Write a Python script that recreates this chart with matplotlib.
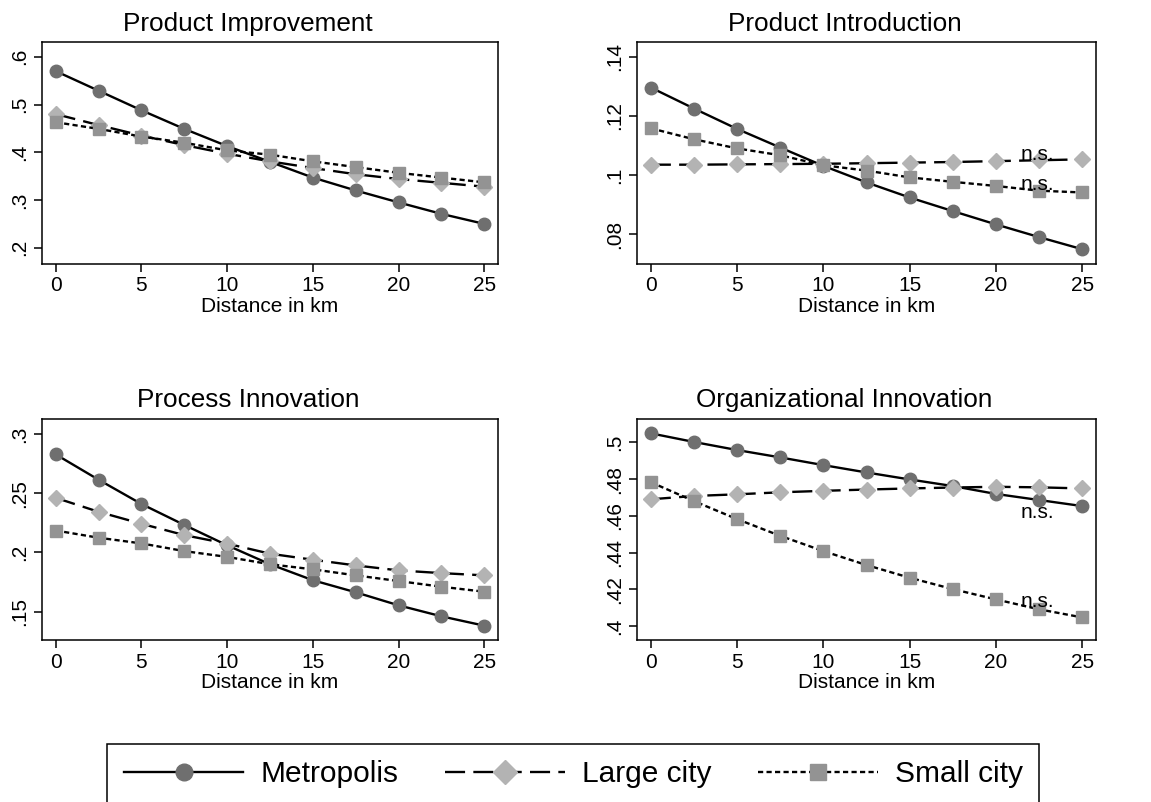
import matplotlib
matplotlib.use("Agg")
import matplotlib.pyplot as plt
from matplotlib.lines import Line2D

plt.rcParams['font.family'] = ['Liberation Sans', 'DejaVu Sans']

# distance grid (km)
distance = [0, 2.5, 5, 7.5, 10, 12.5, 15, 17.5, 20, 22.5, 25]

titles = ["Product Improvement", "Product Introduction",
          "Process Innovation", "Organizational Innovation"]
series_names = ["Metropolis", "Large city", "Small city"]

# predicted probabilities
improve_metro = [0.570, 0.529, 0.488, 0.449, 0.413, 0.380, 0.347, 0.320, 0.295, 0.271, 0.250]
improve_large = [0.480, 0.457, 0.435, 0.415, 0.397, 0.381, 0.367, 0.354, 0.344, 0.336, 0.328]
improve_small = [0.463, 0.449, 0.433, 0.420, 0.404, 0.395, 0.381, 0.369, 0.357, 0.347, 0.337]

intro_metro = [0.1296, 0.1225, 0.1156, 0.1093, 0.1031, 0.0975, 0.0924, 0.0878, 0.0833, 0.0790, 0.0749]
intro_large = [0.1035, 0.1035, 0.1036, 0.1037, 0.1038, 0.1040, 0.1042, 0.1044, 0.1047, 0.1050, 0.1053]
intro_small = [0.1158, 0.1121, 0.1090, 0.1067, 0.1033, 0.1015, 0.0992, 0.0977, 0.0963, 0.0947, 0.0941]

process_metro = [0.2828, 0.2614, 0.2409, 0.2232, 0.2060, 0.1900, 0.1765, 0.1663, 0.1553, 0.1460, 0.1381]
process_large = [0.2461, 0.2343, 0.2242, 0.2146, 0.2074, 0.1989, 0.1938, 0.1890, 0.1848, 0.1825, 0.1806]
process_small = [0.2185, 0.2124, 0.2076, 0.2011, 0.1962, 0.1900, 0.1857, 0.1806, 0.1758, 0.1710, 0.1668]

org_metro = [0.5049, 0.5002, 0.4958, 0.4918, 0.4876, 0.4836, 0.4798, 0.4762, 0.4719, 0.4686, 0.4653]
org_large = [0.4690, 0.4708, 0.4717, 0.4728, 0.4736, 0.4743, 0.4749, 0.4754, 0.4758, 0.4755, 0.4749]
org_small = [0.4783, 0.4680, 0.4582, 0.4491, 0.4408, 0.4332, 0.4263, 0.4201, 0.4145, 0.4091, 0.4047]

yticks = [[0.2, 0.3, 0.4, 0.5, 0.6],
          [0.08, 0.1, 0.12, 0.14],
          [0.15, 0.2, 0.25, 0.3],
          [0.4, 0.42, 0.44, 0.46, 0.48, 0.5]]
ylims = [(0.166, 0.631), (0.0699, 0.145), (0.126, 0.3127), (0.3924, 0.5127)]

# "n.s." notes: panel index, x, y
ns_notes = [(1, 22.4, 0.1050), (1, 22.4, 0.0949), (3, 22.4, 0.4588), (3, 22.4, 0.4104)]

panels = [(improve_metro, improve_large, improve_small),
          (intro_metro, intro_large, intro_small),
          (process_metro, process_large, process_small),
          (org_metro, org_large, org_small)]

W, H = 1151, 802
# axes boxes in pixels: left, top, right, bottom
boxes = [(42, 42, 498, 264), (637, 42, 1096, 264),
         (42, 419, 498, 640), (637, 419, 1096, 640)]
title_x = [248, 844.5, 248, 844.5]
title_y = [31, 31, 407, 407]

LW = 1.7
styles = [dict(color='black', linestyle='-', marker='o', markersize=9,
               markerfacecolor='#6f6f6f', markeredgecolor='#6f6f6f'),
          dict(color='black', linestyle=(0, (8.5, 3.5)), marker='D', markersize=8,
               markerfacecolor='#b3b3b3', markeredgecolor='#b3b3b3'),
          dict(color='black', linestyle=(0, (2.2, 1.4)), marker='s', markersize=8.3,
               markerfacecolor='#939393', markeredgecolor='#939393')]


def stata_fmt(v):
    s = '%g' % v
    if s.startswith('0.'):
        s = s[1:]
    return s


fig = plt.figure(figsize=(W / 100, H / 100), dpi=100)

for i, (data, box) in enumerate(zip(panels, boxes)):
    l, t, r, b = box
    ax = fig.add_axes([l / W, 1 - b / H, (r - l) / W, (b - t) / H])
    for vals, st in zip(data, styles):
        ax.plot(distance, vals, linewidth=LW, **st)
    ax.set_xlim(-0.8, 25.8)
    ax.set_ylim(*ylims[i])
    ax.set_xticks([0, 5, 10, 15, 20, 25])
    ax.set_yticks(yticks[i])
    ax.set_yticklabels([stata_fmt(v) for v in yticks[i]], rotation=90, va='center')
    ax.tick_params(labelsize=15, length=6, width=1.1, pad=3)
    for sp in ax.spines.values():
        sp.set_linewidth(1.1)
    ax.set_xlabel("Distance in km", fontsize=15, labelpad=1)
    fig.text(title_x[i] / W, 1 - title_y[i] / H, titles[i], fontsize=18.8,
             ha='center', va='baseline')
    for p, x, y in ns_notes:
        if p == i:
            ax.text(x, y, "n.s.", fontsize=15, ha='center', va='baseline')

handles = [Line2D([], [], linewidth=LW, color='black', linestyle='-', marker='o',
                  markersize=12, markerfacecolor='#6f6f6f', markeredgecolor='#6f6f6f'),
           Line2D([], [], linewidth=LW, color='black', linestyle=(0, (8.5, 3.5)), marker='D',
                  markersize=12.5, markerfacecolor='#b3b3b3', markeredgecolor='#b3b3b3'),
           Line2D([], [], linewidth=LW, color='black', linestyle=(0, (2.2, 1.4)), marker='s',
                  markersize=11.3, markerfacecolor='#939393', markeredgecolor='#939393')]

leg = fig.legend(handles, series_names, loc='upper center',
                 bbox_to_anchor=(0.498, 1 - 744 / H), ncol=3, fontsize=21.5,
                 frameon=True, fancybox=False, edgecolor='black', framealpha=1,
                 handlelength=4.0, handletextpad=0.57, columnspacing=1.57,
                 borderpad=0.55, borderaxespad=0)
leg.get_frame().set_linewidth(1.1)

fig.savefig("out.png", dpi=100)
